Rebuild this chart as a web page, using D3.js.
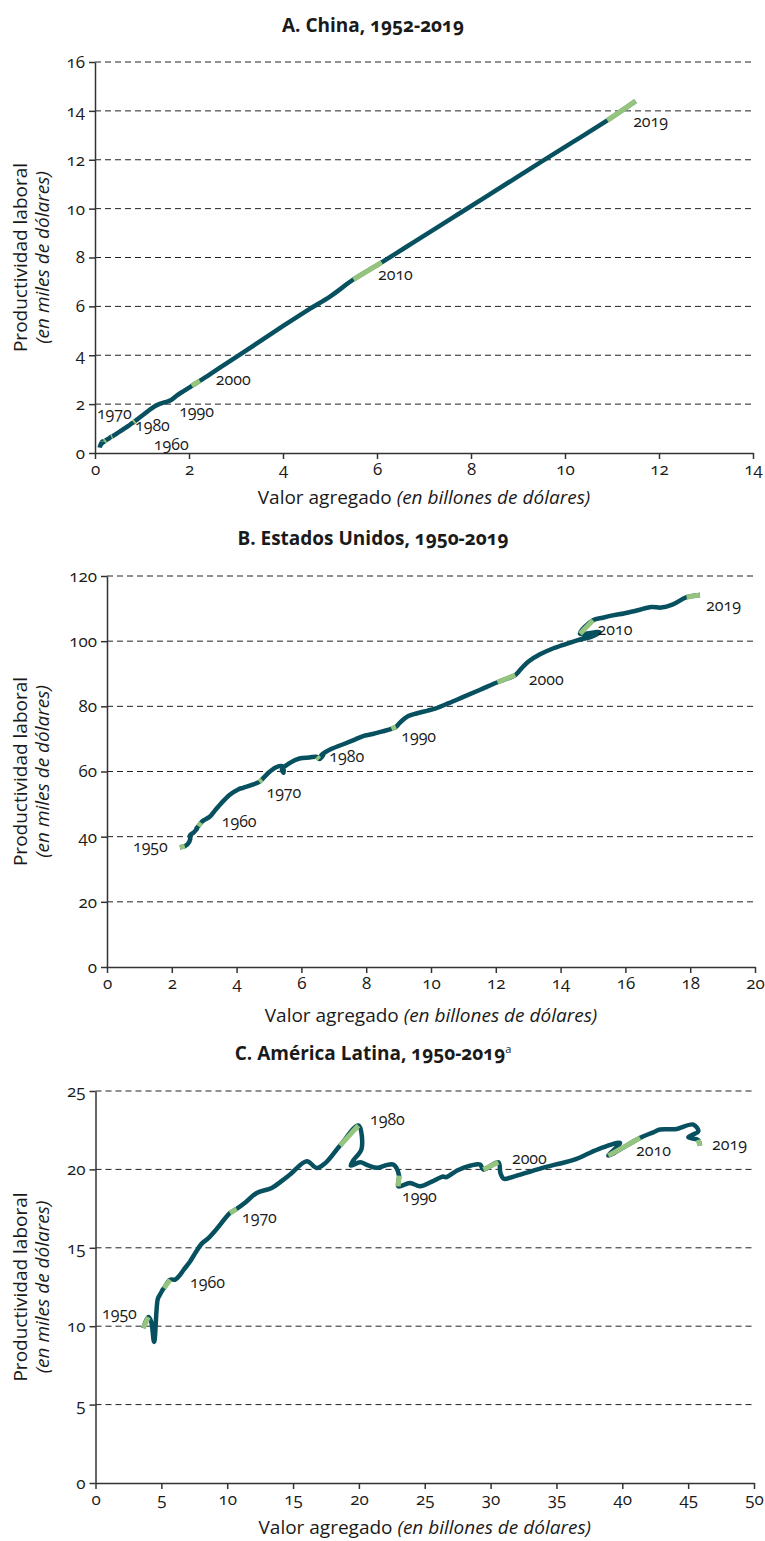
<!DOCTYPE html>
<html>
<head>
<meta charset="utf-8">
<script src="https://cdn.jsdelivr.net/npm/d3@7"></script>
<style>
  body { margin: 0; background: #fff; }
  svg text { font-family: "Open Sans", sans-serif; font-variant-numeric: oldstyle-nums; fill: #1a1a1a; }
</style>
</head>
<body>
<svg id="chart" width="765" height="1541"></svg>
<script>
// ---- data ----
// A. China, 1952-2019: value added (trillions) and labour productivity (thousands)
const chinaStart = 1952;
const chinaX = [0.10,0.11,0.115,0.12,0.13,0.135,0.16,0.17,0.17,
  0.12,0.115,0.13,0.15,0.17,0.19,0.18,0.175,0.20,0.23,
  0.24,0.25,0.27,0.275,0.30,0.29,0.31,0.32,0.345,0.37,
  0.385,0.42,0.46,0.53,0.59,0.64,0.71,0.79,0.82,0.85,
  0.93,1.05,1.19,1.34,1.48,1.62,1.76,1.90,2.06,2.23,
  2.42,2.65,2.92,3.22,3.58,4.02,4.57,5.00,5.50,6.10,
  6.62,7.14,7.70,8.28,8.88,9.50,10.18,10.90,11.50];
const chinaY = [0.22,0.30,0.32,0.33,0.38,0.40,0.47,0.48,0.46,
  0.34,0.32,0.36,0.40,0.44,0.48,0.45,0.43,0.47,0.52,
  0.53,0.54,0.57,0.57,0.60,0.58,0.61,0.64,0.66,0.68,
  0.70,0.74,0.79,0.88,0.96,1.02,1.11,1.22,1.25,1.30,
  1.42,1.60,1.81,1.98,2.07,2.17,2.38,2.55,2.75,2.95,
  3.19,3.48,3.82,4.20,4.66,5.22,5.90,6.40,7.10,7.80,
  8.43,9.06,9.74,10.44,11.17,11.92,12.74,13.61,14.40];
const chinaGreen = [1959,1969,1979,1989,1999,2009,2018];
const chinaXTicks = [0,2,4,6,8,10,12,14];
const chinaYTicks = [0,2,4,6,8,10,12,14,16];
const chinaLabels = [
  {t:"1970", x:0.04, y:1.62}, {t:"1980", x:0.85, y:1.12}, {t:"1960", x:1.25, y:0.36},
  {t:"1990", x:1.79, y:1.70}, {t:"2000", x:2.57, y:3.03}, {t:"2010", x:6.02, y:7.32},
  {t:"2019", x:11.45, y:13.58}];

// B. Estados Unidos, 1950-2019
const usStart = 1950;
const usX = [2.25,2.40,2.48,2.57,2.56,2.68,2.73,2.78,2.76,2.82,
  2.90,2.98,3.17,3.33,3.52,3.78,4.05,4.20,4.45,4.70,
  4.78,4.96,5.22,5.42,5.45,5.40,5.62,5.94,6.25,6.48,
  6.55,6.68,6.60,6.90,7.35,7.65,7.95,8.20,8.50,8.78,
  8.92,9.02,9.30,9.55,9.90,10.15,10.55,11.00,11.50,12.05,
  12.60,12.78,13.00,13.35,13.80,14.25,14.60,14.96,15.20,14.60,
  15.00,15.30,15.65,15.95,16.35,16.80,17.10,17.45,17.89,18.30];
const usY = [36.7,37.1,37.6,39.3,40.4,41.3,41.9,42.4,42.6,43.2,
  44.3,45.0,46.1,48.0,50.2,52.8,54.5,55.0,55.8,56.8,
  57.5,59.4,61.3,61.6,59.6,60.6,62.5,64.0,64.3,64.5,
  63.8,65.2,65.0,66.8,68.6,69.8,71.0,71.5,72.3,73.1,
  73.7,74.8,77.0,77.8,78.7,79.4,81.0,82.9,85.0,87.4,
  89.6,91.5,93.7,95.9,97.9,99.4,100.5,101.4,102.8,102.3,
  106.4,107.2,108.0,108.5,109.4,110.5,110.3,111.2,113.5,114.2];
const usGreen = [1950,1959,1969,1979,1989,1999,2009,2018];
const usXTicks = [0,2,4,6,8,10,12,14,16,18,20];
const usYTicks = [0,20,40,60,80,100,120];
const usLabels = [
  {t:"1950", x:0.80, y:37.1}, {t:"1960", x:3.54, y:44.8}, {t:"1970", x:4.92, y:53.7},
  {t:"1980", x:6.86, y:64.5}, {t:"1990", x:9.08, y:70.9}, {t:"2000", x:13.02, y:88.4},
  {t:"2010", x:15.14, y:103.7}, {t:"2019", x:18.49, y:111.1}];

// C. América Latina, 1950-2019
const latamStart = 1950;
const latamX = [3.63,4.01,4.22,4.45,4.72,4.85,4.95,5.05,5.12,5.20,
  5.66,6.05,6.35,6.70,7.18,7.60,8.05,8.55,9.20,10.21,
  10.72,11.40,12.24,13.38,14.20,14.77,16.04,16.80,17.45,18.57,
  19.96,20.20,19.60,19.38,20.10,20.70,21.40,22.00,22.61,23.05,
  22.99,23.88,24.64,25.50,26.40,26.60,27.50,28.50,29.20,29.45,
  30.59,30.75,31.00,31.60,33.50,34.90,36.30,38.20,39.83,38.94,
  41.35,42.30,42.86,43.60,44.13,45.39,45.77,45.01,45.75,45.90];
const latamY = [9.88,10.58,10.30,9.00,11.70,11.95,12.10,12.25,12.35,12.43,
  12.96,12.97,13.20,13.60,14.13,14.70,15.25,15.60,16.20,17.22,
  17.48,17.90,18.50,18.82,19.30,19.67,20.52,20.09,20.40,21.52,
  22.80,21.30,20.60,20.24,20.45,20.25,20.10,20.25,20.31,19.60,
  18.92,19.14,18.92,19.20,19.55,19.50,19.95,20.25,20.31,19.99,
  20.45,19.75,19.40,19.50,19.99,20.30,20.60,21.30,21.69,20.88,
  22.01,22.35,22.54,22.56,22.58,22.86,22.43,22.05,21.88,21.52];
const latamGreen = [1950,1959,1969,1979,1989,1999,2009,2018];
const latamXTicks = [0,5,10,15,20,25,30,35,40,45,50];
const latamYTicks = [0,5,10,15,20,25];
const latamLabels = [
  {t:"1950", x:0.49, y:10.79}, {t:"1960", x:7.18, y:12.77}, {t:"1970", x:11.12, y:16.92},
  {t:"1980", x:20.84, y:23.18}, {t:"1990", x:23.27, y:18.26}, {t:"2000", x:31.62, y:20.69},
  {t:"2010", x:41.04, y:21.2}, {t:"2019", x:46.81, y:21.58}];

// ---- layout ----
const teal = "#07505f";
const green = "#95c47f";

const panels = [
  {title:"A. China, 1952-2019", sup:null, start:chinaStart, xs:chinaX, ys:chinaY, green:chinaGreen,
   xTicks:chinaXTicks, yTicks:chinaYTicks, labels:chinaLabels,
   left:95, right:753, top:62, bottom:453, titleY:25, xTitleY:497},
  {title:"B. Estados Unidos, 1950-2019", sup:null, start:usStart, xs:usX, ys:usY, green:usGreen,
   xTicks:usXTicks, yTicks:usYTicks, labels:usLabels,
   left:107, right:755, top:576, bottom:967, titleY:538, xTitleY:1015},
  {title:"C. América Latina, 1950-2019", sup:"a", start:latamStart, xs:latamX, ys:latamY, green:latamGreen,
   xTicks:latamXTicks, yTicks:latamYTicks, labels:latamLabels,
   left:95.5, right:754, top:1091, bottom:1483, titleY:1053, xTitleY:1527}
];

const svg = d3.select("#chart");

panels.forEach(p => {
  const x = d3.scaleLinear()
      .domain([p.xTicks[0], p.xTicks[p.xTicks.length - 1]])
      .range([p.left, p.right]);
  const y = d3.scaleLinear()
      .domain([p.yTicks[0], p.yTicks[p.yTicks.length - 1]])
      .range([p.bottom, p.top]);

  const g = svg.append("g");

  // title
  const title = g.append("text")
      .attr("x", 373).attr("y", p.titleY).attr("dy", "0.35em")
      .attr("text-anchor", "middle")
      .style("font-size", "19px").style("font-weight", "700")
      .text(p.title);
  if (p.sup) {
    title.append("tspan").attr("dy", "-0.6em")
        .style("font-size", "11px").style("font-weight", "400")
        .text(p.sup);
  }

  // dashed grid
  g.append("g").selectAll("line")
    .data(p.yTicks.filter(d => d > 0))
    .join("line")
      .attr("x1", p.left).attr("x2", p.right)
      .attr("y1", d => y(d)).attr("y2", d => y(d))
      .attr("stroke", "#222").attr("stroke-width", 1)
      .attr("stroke-dasharray", "6,4");

  // axes
  const yAxis = g.append("g")
      .attr("transform", `translate(${p.left},0)`)
      .call(d3.axisLeft(y).tickValues(p.yTicks).tickSize(6).tickSizeOuter(0).tickPadding(4));
  const xAxis = g.append("g")
      .attr("transform", `translate(0,${p.bottom})`)
      .call(d3.axisBottom(x).tickValues(p.xTicks).tickSize(6).tickSizeOuter(0).tickPadding(4));
  [xAxis, yAxis].forEach(a => {
    a.select(".domain").attr("stroke", "#333").attr("stroke-width", 1.5);
    a.selectAll(".tick line").attr("stroke", "#333").attr("stroke-width", 1.5);
    a.selectAll(".tick text").style("font-size", "17px").attr("fill", "#1a1a1a");
  });

  // axis titles
  const xt = g.append("text")
      .attr("x", (p.left + p.right) / 2).attr("y", p.xTitleY).attr("dy", "0.35em")
      .attr("text-anchor", "middle").style("font-size", "19px");
  xt.append("tspan").text("Valor agregado ");
  xt.append("tspan").style("font-style", "italic").text("(en billones de dólares)");

  const cy = (p.top + p.bottom) / 2;
  g.append("text")
      .attr("transform", `translate(20,${cy}) rotate(-90)`)
      .attr("dy", "0.35em").attr("text-anchor", "middle")
      .style("font-size", "19px").text("Productividad laboral");
  g.append("text")
      .attr("transform", `translate(42,${cy}) rotate(-90)`)
      .attr("dy", "0.35em").attr("text-anchor", "middle")
      .style("font-size", "19px").style("font-style", "italic").text("(en miles de dólares)");

  // series
  const pts = p.xs.map((v, i) => ({year: p.start + i, x: v, y: p.ys[i]}));
  const line = d3.line()
      .x(d => x(d.x)).y(d => y(d.y))
      .curve(d3.curveCatmullRom.alpha(0.5));

  g.append("path")
      .datum(pts)
      .attr("d", line)
      .attr("fill", "none")
      .attr("stroke", teal).attr("stroke-width", 4.5)
      .attr("stroke-linejoin", "round");

  g.append("g").selectAll("line")
    .data(p.green.map(s => [pts[s - p.start], pts[s - p.start + 1]]))
    .join("line")
      .attr("x1", d => x(d[0].x)).attr("y1", d => y(d[0].y))
      .attr("x2", d => x(d[1].x)).attr("y2", d => y(d[1].y))
      .attr("stroke", green).attr("stroke-width", 5);

  // year labels
  g.append("g").selectAll("text")
    .data(p.labels)
    .join("text")
      .attr("x", d => x(d.x)).attr("y", d => y(d.y)).attr("dy", "0.35em")
      .style("font-size", "16px")
      .text(d => d.t);
});
</script>
</body>
</html>
